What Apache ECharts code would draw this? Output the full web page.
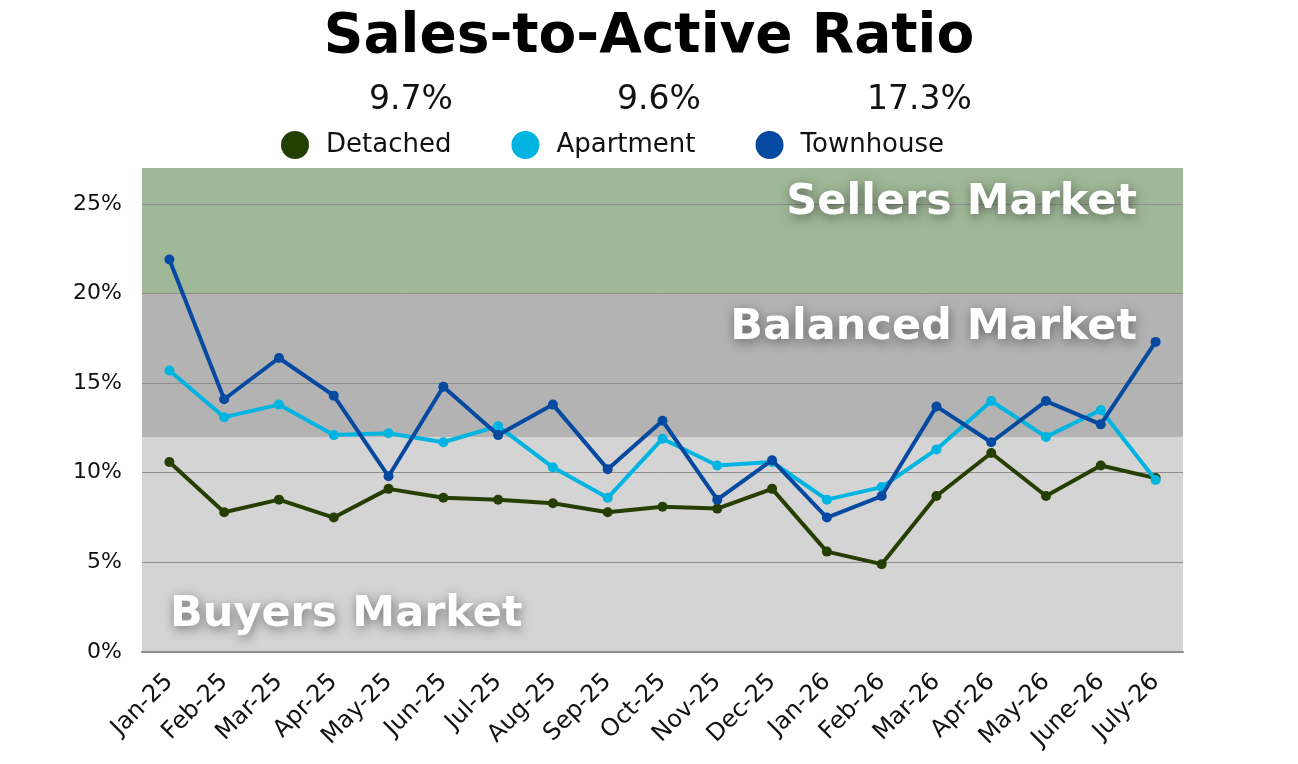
<!DOCTYPE html>
<html lang="en">
<head>
    <meta charset="UTF-8">
    <title>Sales-to-Active Ratio</title>
    <script src="https://cdn.jsdelivr.net/npm/echarts@6/dist/echarts.min.js"></script>
</head>
<body style="margin:0;background:#fff">
<div id="chart" style="width:1298px;height:764px"></div>
<script>
    // months on the x axis
    var months = ['Jan-25', 'Feb-25', 'Mar-25', 'Apr-25', 'May-25', 'Jun-25', 'Jul-25', 'Aug-25', 'Sep-25',
        'Oct-25', 'Nov-25', 'Dec-25', 'Jan-26', 'Feb-26', 'Mar-26', 'Apr-26', 'May-26', 'June-26', 'July-26'];

    // ratios in %
    var detached = [10.6, 7.8, 8.5, 7.5, 9.1, 8.6, 8.5, 8.3, 7.8, 8.1, 8.0, 9.1, 5.6, 4.9, 8.7, 11.1, 8.7, 10.4, 9.7];
    var apartment = [15.7, 13.1, 13.8, 12.1, 12.2, 11.7, 12.6, 10.3, 8.6, 11.9, 10.4, 10.6, 8.5, 9.2, 11.3, 14.0, 12.0, 13.5, 9.6];
    var townhouse = [21.9, 14.1, 16.4, 14.3, 9.8, 14.8, 12.1, 13.8, 10.2, 12.9, 8.5, 10.7, 7.5, 8.7, 13.7, 11.7, 14.0, 12.7, 17.3];

    var seriesNames = ['Detached', 'Apartment', 'Townhouse'];
    var colors = ['#253f03', '#00b4e1', '#0549a0'];

    // market bands (lower, upper, name)
    var bandLow = [0, 12, 20];
    var bandHigh = [12, 20, 27];
    var bandNames = ['Buyers Market', 'Balanced Market', 'Sellers Market'];
    var bandColors = ['#d4d4d4', '#b3b3b3', '#a0b897'];

    var yTicks = [0, 5, 10, 15, 20, 25];

    var _chart = echarts.init(document.getElementById('chart'));

    var bandLabelPos = [[28, 178], [995, 34], [995, 35]];
    var bandLabelAlign = ['left', 'right', 'right'];
    var fills = [];
    var labels = [];
    for (var i = 0; i < bandNames.length; i++) {
        fills.push([
            {yAxis: bandLow[i], itemStyle: {color: bandColors[i], opacity: 1}},
            {yAxis: bandHigh[i]}
        ]);
        labels.push([
            {
                yAxis: bandLow[i], name: bandNames[i],
                label: {position: bandLabelPos[i], align: bandLabelAlign[i]}
            },
            {yAxis: bandHigh[i]}
        ]);
    }

    // grid lines drawn as marker lines so the top edge stays clean
    var gridLines = [];
    for (var t = 1; t < yTicks.length; t++) {
        gridLines.push({yAxis: yTicks[t]});
    }

    var allData = [detached, apartment, townhouse];
    var series = [];
    series.push({
        name: 'bands',
        type: 'line',
        data: [],
        z: 0,
        markArea: {silent: true, z: 0, label: {show: false}, data: fills}
    });
    series.push({
        name: 'bandText',
        type: 'line',
        data: [],
        z: 1,
        markLine: {
            silent: true,
            z: 1,
            symbol: 'none',
            label: {show: false},
            lineStyle: {type: 'solid', color: '#8e8e8e', width: 1},
            data: gridLines
        },
        markArea: {
            silent: true,
            z: 2,
            itemStyle: {color: 'rgba(0,0,0,0)'},
            label: {
                show: true,
                verticalAlign: 'middle',
                color: '#fff',
                fontFamily: 'DejaVu Sans',
                fontWeight: 'bold',
                fontSize: 43,
                textShadowColor: 'rgba(0,0,0,0.45)',
                textShadowBlur: 12,
                textShadowOffsetX: 1,
                textShadowOffsetY: 3
            },
            data: labels
        }
    });
    for (var s = 0; s < 3; s++) {
        series.push({
            name: seriesNames[s],
            type: 'line',
            data: allData[s],
            symbol: 'circle',
            symbolSize: 10,
            lineStyle: {width: 4, color: colors[s]},
            itemStyle: {color: colors[s]},
            z: 3 + s
        });
    }

    // latest values shown above the legend
    var valueX = [414, 662, 912];
    var graphics = [];
    for (var g = 0; g < 3; g++) {
        var arr = allData[g];
        graphics.push({
            type: 'text',
            left: valueX[g] - 45,
            top: 84,
            style: {
                text: arr[arr.length - 1].toFixed(1) + '%',
                font: '33px "DejaVu Sans"',
                fill: '#111',
                width: 90,
                align: 'center'
            }
        });
    }

    var option = {
        animation: false,
        title: {
            text: 'Sales-to-Active Ratio',
            left: 'center',
            top: 5,
            textStyle: {
                fontFamily: 'DejaVu Sans',
                fontWeight: 'bold',
                fontSize: 55,
                color: '#000'
            }
        },
        legend: {
            data: seriesNames,
            left: 276,
            top: 126,
            icon: 'circle',
            itemWidth: 28,
            itemHeight: 28,
            itemGap: 60,
            textStyle: {fontFamily: 'DejaVu Sans', fontSize: 26, color: '#111', padding: [0, 0, 0, 12]}
        },
        graphic: graphics,
        grid: {left: 142, right: 115, top: 168, bottom: 112},
        xAxis: {
            type: 'category',
            data: months,
            boundaryGap: true,
            z: 2,
            axisLine: {lineStyle: {color: '#8c8c8c', width: 2}},
            axisTick: {show: false},
            axisLabel: {
                interval: 0,
                rotate: 45,
                margin: 26,
                fontFamily: 'DejaVu Sans',
                fontSize: 24,
                color: '#111'
            }
        },
        yAxis: {
            type: 'value',
            min: 0,
            max: 27,
            interval: 5,
            axisLine: {show: false},
            axisTick: {show: false},
            splitLine: {show: false},
            axisLabel: {
                margin: 20,
                fontFamily: 'DejaVu Sans',
                fontSize: 22,
                color: '#111',
                formatter: function (v) {
                    return yTicks.indexOf(v) >= 0 ? v + '%' : '';
                }
            }
        },
        series: series
    };
    _chart.setOption(option, true);
</script>
</body>
</html>
